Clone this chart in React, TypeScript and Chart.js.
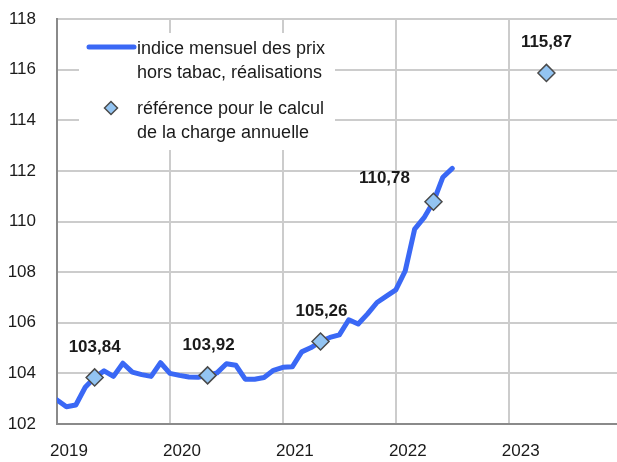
import React, { useEffect, useRef } from "react";
import { Chart, registerables } from "chart.js";

Chart.register(...registerables);

// months since January 2019
const lineMonths = Array.from({ length: 43 }, (_, i) => i);
const lineValues = [
  102.95, 102.68, 102.75, 103.45, 103.84, 104.1, 103.88, 104.4, 104.05, 103.95,
  103.88, 104.42, 104.0, 103.92, 103.86, 103.85, 103.92, 104.02, 104.38, 104.32,
  103.77, 103.77, 103.84, 104.12, 104.24, 104.26, 104.85, 105.02, 105.26, 105.42,
  105.52, 106.12, 105.95, 106.35, 106.8, 107.05, 107.3, 108.05, 109.7, 110.15,
  110.78, 111.75, 112.1,
];
const refMonths = [4, 16, 28, 40, 52];
const refValues = [103.84, 103.92, 105.26, 110.78, 115.87];
const refLabels = ["103,84", "103,92", "105,26", "110,78", "115,87"];
const yearTicks = [0, 12, 24, 36, 48];
const yearLabels = ["2019", "2020", "2021", "2022", "2023"];
const legendLine1 = ["indice mensuel des prix", "hors tabac, réalisations"];
const legendLine2 = ["référence pour le calcul", "de la charge annuelle"];

const LINE_COLOR = "#3a68f5";
const DIAMOND_FILL = "#93c4f2";
const DIAMOND_BORDER = "#4a4a4a";
const TEXT_COLOR = "#1a1a1a";
const FONT = "'Liberation Sans', Arial, sans-serif";
// label offsets (dx, dy) relative to the diamond
const LABEL_OFFSETS = [
  [0, -30],
  [1, -30],
  [1, -30],
  [-49, -23],
  [0, -31],
];

function drawDiamond(ctx: CanvasRenderingContext2D, x: number, y: number, r: number) {
  ctx.beginPath();
  ctx.moveTo(x - r, y);
  ctx.lineTo(x, y - r);
  ctx.lineTo(x + r, y);
  ctx.lineTo(x, y + r);
  ctx.closePath();
  ctx.fillStyle = DIAMOND_FILL;
  ctx.fill();
  ctx.lineWidth = 1.5;
  ctx.strokeStyle = DIAMOND_BORDER;
  ctx.stroke();
}

const legendPlugin = {
  id: "customLegend",
  beforeDatasetsDraw(chart: any) {
    const ctx = chart.ctx as CanvasRenderingContext2D;
    ctx.save();
    ctx.fillStyle = "#ffffff";
    ctx.fillRect(79, 33, 256, 117);
    // line sample
    ctx.strokeStyle = LINE_COLOR;
    ctx.lineWidth = 5;
    ctx.lineCap = "round";
    ctx.beginPath();
    ctx.moveTo(89, 47);
    ctx.lineTo(134, 47);
    ctx.stroke();
    drawDiamond(ctx, 111, 108, 6.5);
    ctx.fillStyle = TEXT_COLOR;
    ctx.font = `18px ${FONT}`;
    ctx.textAlign = "left";
    ctx.textBaseline = "alphabetic";
    ctx.fillText(legendLine1[0], 137, 54);
    ctx.fillText(legendLine1[1], 137, 78);
    ctx.fillText(legendLine2[0], 137, 114);
    ctx.fillText(legendLine2[1], 137, 138);
    ctx.restore();
  },
};

const labelPlugin = {
  id: "refLabels",
  afterDatasetsDraw(chart: any) {
    const ctx = chart.ctx as CanvasRenderingContext2D;
    const meta = chart.getDatasetMeta(1);
    ctx.save();
    ctx.fillStyle = TEXT_COLOR;
    ctx.font = `bold 17px ${FONT}`;
    ctx.textAlign = "center";
    ctx.textBaseline = "middle";
    meta.data.forEach((pt: any, i: number) => {
      const [dx, dy] = LABEL_OFFSETS[i];
      ctx.fillText(refLabels[i], pt.x + dx, pt.y + dy);
    });
    ctx.restore();
  },
};

export default function App() {
  const ref = useRef<HTMLCanvasElement | null>(null);
  useEffect(() => {
    if (!ref.current) return;
    const chart = new Chart(ref.current, {
      type: "scatter",
      data: {
        datasets: [
          {
            type: "line",
            order: 2,
            data: lineMonths.map((m, i) => ({ x: m, y: lineValues[i] })),
            borderColor: LINE_COLOR,
            borderWidth: 5,
            tension: 0,
            pointRadius: 0,
            borderJoinStyle: "round",
            borderCapStyle: "round",
            fill: false,
          } as any,
          {
            type: "scatter",
            order: 1,
            data: refMonths.map((m, i) => ({ x: m, y: refValues[i] })),
            pointStyle: "rectRot",
            pointRadius: 8.5,
            pointBackgroundColor: DIAMOND_FILL,
            pointBorderColor: DIAMOND_BORDER,
            pointBorderWidth: 1.5,
          } as any,
        ],
      },
      options: {
        responsive: false,
        animation: false,
        events: [],
        layout: { autoPadding: false, padding: { left: 0, top: 19, right: 0, bottom: 0 } },
        plugins: { legend: { display: false }, tooltip: { enabled: false } },
        scales: {
          x: {
            type: "linear",
            min: 0,
            max: 59.5,
            afterBuildTicks: (scale: any) => {
              scale.ticks = yearTicks.map((v) => ({ value: v }));
            },
            afterFit: (scale: any) => {
              scale.height = 38;
              scale.paddingLeft = 0;
              scale.paddingRight = 0;
            },
            grid: { color: "#cccccc", lineWidth: 2, drawTicks: false },
            border: { color: "#8a8a8a", width: 2 },
            ticks: {
              padding: 17,
              labelOffset: 12,
              maxRotation: 0,
              autoSkip: false,
              color: TEXT_COLOR,
              font: { family: FONT, size: 17 },
              callback: (v: any) => {
                const idx = yearTicks.indexOf(Number(v));
                return idx >= 0 ? yearLabels[idx] : "";
              },
            },
          },
          y: {
            min: 102,
            max: 118,
            afterFit: (scale: any) => {
              scale.width = 57;
              scale.paddingTop = 0;
              scale.paddingBottom = 0;
            },
            grid: { color: "#cccccc", lineWidth: 2, drawTicks: false },
            border: { color: "#8a8a8a", width: 2 },
            ticks: {
              stepSize: 2,
              padding: 21,
              color: TEXT_COLOR,
              font: { family: FONT, size: 17 },
            },
          },
        },
      } as any,
      plugins: [legendPlugin, labelPlugin],
    });
    return () => chart.destroy();
  }, []);
  return (
    <div style={{ position: "absolute", left: 0, top: 0, width: 617, height: 462, background: "#fff" }}>
      <canvas ref={ref} width={617} height={462} style={{ display: "block" }} />
    </div>
  );
}
